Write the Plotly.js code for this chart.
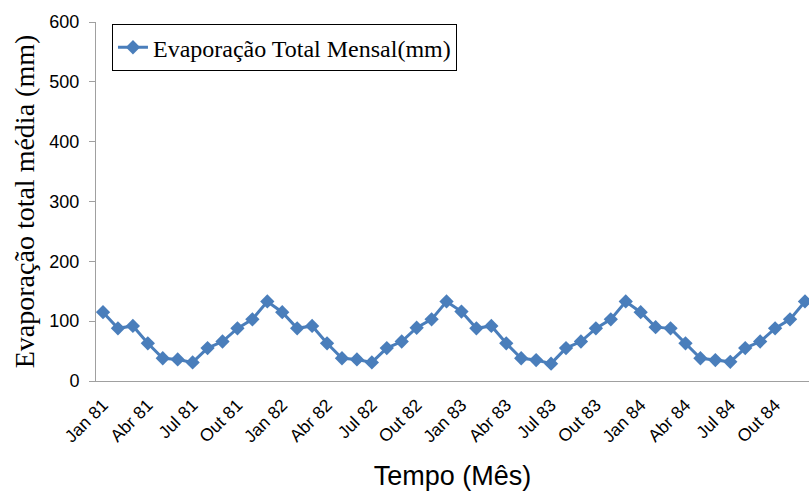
<!DOCTYPE html>
<html>
<head>
<meta charset="utf-8">
<script src="https://cdn.plot.ly/plotly-3.0.1.min.js"></script>
<style>html,body{margin:0;padding:0;background:#fff;}</style>
</head>
<body>
<div id="chart" style="width:809px;height:496px;"></div>
<script>
const monthNames = ["Jan","Fev","Mar","Abr","Mai","Jun","Jul","Ago","Set","Out","Nov","Dez"];
const years = ["81","82","83","84"];
const months = [];
years.forEach(y => monthNames.forEach(m => months.push(m + " " + y)));

const evaporacao = [
  115, 88, 92, 63, 38, 36, 31, 55, 66, 88, 103, 133,
  115, 88, 92, 63, 38, 36, 31, 55, 66, 89, 103, 133,
  116, 88, 92, 63, 38, 35, 29, 55, 66, 88, 103, 133,
  115, 90, 88, 63, 38, 35, 32, 55, 66, 88, 103, 133
];

const tickLabels = ["Jan 81","Abr 81","Jul 81","Out 81","Jan 82","Abr 82","Jul 82","Out 82",
                    "Jan 83","Abr 83","Jul 83","Out 83","Jan 84","Abr 84","Jul 84","Out 84"];

const trace = {
  x: months,
  y: evaporacao,
  type: "scatter",
  mode: "lines+markers",
  name: "Evaporação Total Mensal(mm)",
  line: {color: "#4a7ebb", width: 3},
  marker: {symbol: "diamond", size: 11, color: "#4a7ebb"}
};

const layout = {
  width: 809,
  height: 496,
  margin: {l: 96, r: 0, t: 22, b: 115},
  paper_bgcolor: "#ffffff",
  plot_bgcolor: "#ffffff",
  showlegend: true,
  legend: {
    x: 0.0224, y: 0.994, xanchor: "left", yanchor: "top",
    bordercolor: "#000000", borderwidth: 1, bgcolor: "#ffffff",
    font: {family: "Liberation Serif", size: 24, color: "#000000"},
    itemwidth: 30
  },
  xaxis: {
    type: "category",
    range: [-0.47, 47.27],
    tickmode: "array",
    tickvals: tickLabels,
    ticktext: tickLabels,
    tickangle: -45,
    ticks: "",
    ticklabelstandoff: 6,
    showgrid: false,
    zeroline: false,
    showline: true,
    linecolor: "#a0a0a0",
    linewidth: 1,
    tickfont: {family: "Liberation Sans", size: 17.5, color: "#000000"},
    title: {text: "Tempo (Mês)", standoff: 20,
            font: {family: "Liberation Sans", size: 27, color: "#000000"}},
    automargin: false,
    fixedrange: true
  },
  yaxis: {
    range: [0, 600],
    tickvals: [0, 100, 200, 300, 400, 500, 600],
    ticks: "outside",
    ticklen: 6,
    tickcolor: "#a0a0a0",
    ticklabelstandoff: 6,
    showgrid: false,
    zeroline: false,
    showline: true,
    linecolor: "#a0a0a0",
    linewidth: 1,
    tickfont: {family: "Liberation Sans", size: 18, color: "#000000"},
    title: {text: "Evaporação total média (mm)", standoff: 6,
            font: {family: "Liberation Serif", size: 28, color: "#000000"}},
    automargin: false,
    fixedrange: true
  }
};

Plotly.newPlot("chart", [trace], layout, {staticPlot: true, displayModeBar: false});
</script>
</body>
</html>
